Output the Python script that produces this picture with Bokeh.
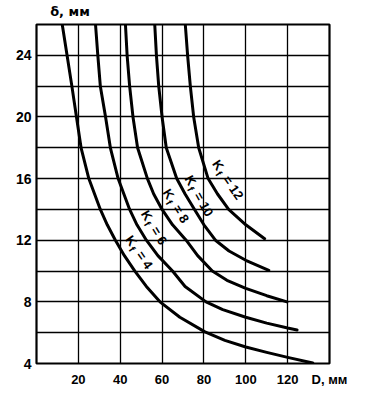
import math
from bokeh.plotting import figure
from bokeh.models import Range1d, FixedTicker, LinearAxis
from bokeh.embed import file_html
from bokeh.resources import INLINE
from bokeh.core.properties import value

# ---- data (D in mm, delta in mm) ----
kf_values = [4, 6, 8, 10, 12]

d_kf4 = [12.3, 14.6, 16.9, 19.1, 21.3, 25.0, 30.5, 33.8, 37.7, 42.0, 47.0, 52.5, 59.0, 68.5, 80.5, 90.0, 100.0, 110.0, 120.0, 132.0]
s_kf4 = [26, 24, 22, 20, 18, 16, 14, 13, 12, 11, 10, 9, 8, 7, 6.05, 5.5, 5.07, 4.72, 4.4, 4.03]

d_kf6 = [28.2, 29.3, 30.5, 33.0, 35.3, 39.0, 44.5, 48.0, 52.5, 58.0, 65.0, 71.0, 81.0, 89.0, 100.0, 110.0, 120.0, 124.5]
s_kf6 = [26, 24, 22, 20, 18, 16, 14, 13, 12, 11, 10, 9, 8, 7.5, 7.0, 6.62, 6.3, 6.18]

d_kf8 = [42.5, 43.3, 44.5, 46.1, 48.3, 53.0, 56.0, 60.0, 65.0, 71.5, 77.0, 84.0, 91.0, 100.0, 110.0, 119.7]
s_kf8 = [26, 24, 22, 20, 18, 16, 15, 14, 13, 12, 11, 10, 9.4, 8.88, 8.4, 8.0]

d_kf10 = [56.5, 57.3, 58.4, 60.0, 62.0, 67.0, 71.0, 75.5, 80.0, 85.5, 92.0, 100.0, 111.0]
s_kf10 = [26, 24, 22, 20, 18, 16, 15, 14, 13, 12, 11.3, 10.7, 10.05]

d_kf12 = [71.1, 72.2, 73.5, 75.1, 77.5, 82.0, 86.5, 91.8, 100.0, 109.0]
s_kf12 = [26, 24, 22, 20, 18, 16, 15, 14, 13.0, 12.1]

curves_d = [d_kf4, d_kf6, d_kf8, d_kf10, d_kf12]
curves_s = [s_kf4, s_kf6, s_kf8, s_kf10, s_kf12]

# curve label anchors (centre of label) and their tilt (deg, clockwise)
label_d = [49.2, 56.3, 66.8, 77.8, 91.6]
label_s = [11.2, 12.8, 14.2, 14.85, 15.9]
label_tilt = [55, 59, 58, 61, 56]

x_ticks = [20, 40, 60, 80, 100, 120]
y_ticks = [4, 8, 12, 16, 20, 24]
y_grid = [6, 8, 10, 12, 14, 16, 18, 20, 22, 24]
x_title = "D, мм"
y_title = "δ, мм"
y_title_at = 16

X0, X1, Y0, Y1 = 0, 140, 4, 26
W, H = 365, 393
BL, BR, BT, BB = 36, 36, 24, 30

p = figure(width=W, height=H, x_range=Range1d(X0, X1), y_range=Range1d(Y0, Y1),
           output_backend="svg", toolbar_location=None,
           min_border_left=BL, min_border_right=BR, min_border_top=BT, min_border_bottom=BB)
p.background_fill_color = "white"
p.border_fill_color = "white"
p.outline_line_color = "black"
p.outline_line_width = 2.2

bottom_axis = p.below[0]
left_axis = p.left[0]

# title axis above the frame, carrying the δ label
top_axis = LinearAxis()
p.add_layout(top_axis, "above")

def style_axis(ax, size):
    ax.axis_line_color = None
    ax.major_tick_out = 0
    ax.major_tick_in = 0
    ax.minor_tick_out = 0
    ax.minor_tick_in = 0
    ax.major_label_text_font = "Liberation Sans"
    ax.major_label_text_font_style = "bold"
    ax.major_label_text_font_size = size
    ax.major_label_text_color = "black"

style_axis(bottom_axis, "13px")
style_axis(left_axis, "14px")
style_axis(top_axis, "13px")

bottom_axis.ticker = FixedTicker(ticks=x_ticks + [X1])
bottom_axis.major_label_overrides = {X1: x_title}
bottom_axis.major_label_standoff = 8
left_axis.ticker = FixedTicker(ticks=y_ticks)
left_axis.major_label_standoff = 5

top_axis.ticker = FixedTicker(ticks=[y_title_at])
top_axis.major_label_overrides = {y_title_at: y_title}
top_axis.major_label_text_font = "DejaVu Sans"
top_axis.major_label_standoff = 6

p.xgrid.ticker = FixedTicker(ticks=x_ticks)
p.ygrid.ticker = FixedTicker(ticks=y_grid)
for g in (p.xgrid, p.ygrid):
    g.grid_line_color = "black"
    g.grid_line_width = 1.3
    g.grid_line_alpha = 1.0

for dd, ss in zip(curves_d, curves_s):
    p.line(dd, ss, line_color="black", line_width=3.0, line_join="round", line_cap="round")

# pixel scale of the frame
fw = W - BL - BR
fh = H - BT - BB
pxx = fw / (X1 - X0)
pxy = fh / (Y1 - Y0)

def shifted(x, y, s, q, th):
    # s: along text direction (px), q: toward text "down" (px); screen y down
    ox = s * math.cos(th) - q * math.sin(th)
    oy = s * math.sin(th) + q * math.cos(th)
    return x + ox / pxx, y - oy / pxy

font = value("Liberation Sans")
for kf, cx, cy, tilt in zip(kf_values, label_d, label_s, label_tilt):
    th = math.radians(tilt)
    rest = "= %d" % kf
    L = 19 + 8 + 4 + 7.3 * len(str(kf))
    s0 = -L / 2
    parts = [("K", s0, 0, "13px"), ("f", s0 + 10.5, 4, "10px"), (rest, s0 + 19, 0, "13px")]
    for txt, s, q, fs in parts:
        x, y = shifted(cx, cy, s, q, th)
        p.text([x], [y], text=[txt], angle=-th, text_align="left", text_baseline="middle",
               text_font=font, text_font_style="bold", text_font_size=fs, text_color="black")

open("out.html", "w").write(file_html(p, INLINE))
